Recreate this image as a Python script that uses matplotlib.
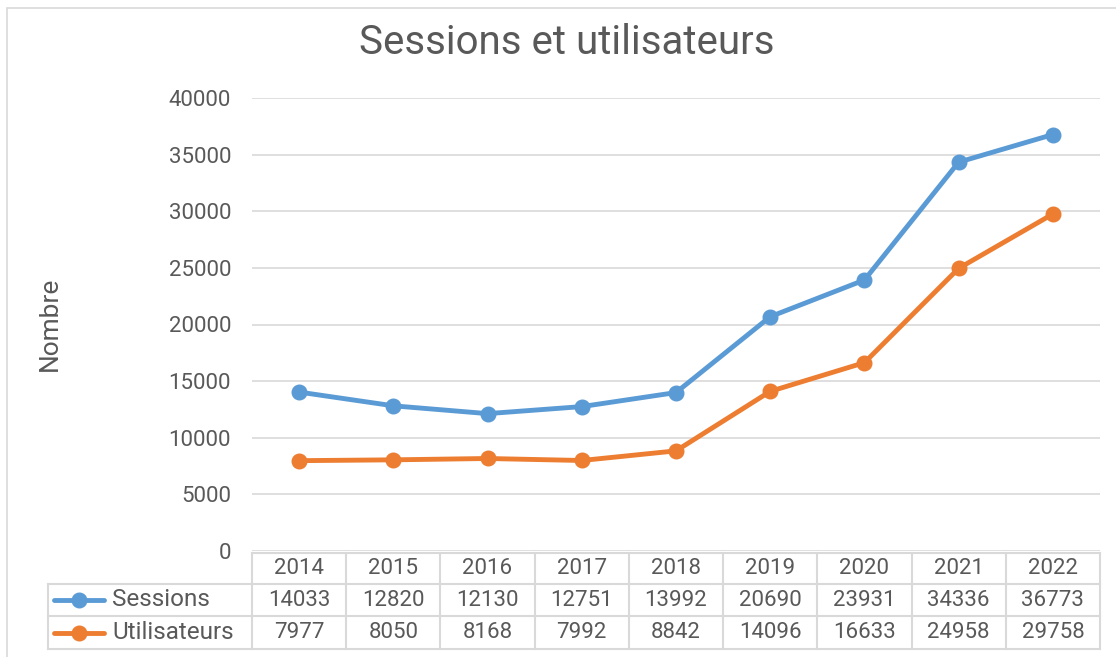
import matplotlib.pyplot as plt
from matplotlib.patches import Rectangle
from matplotlib.transforms import blended_transform_factory

plt.rcParams["font.family"] = ["Roboto", "DejaVu Sans"]

years = ["2014", "2015", "2016", "2017", "2018", "2019", "2020", "2021", "2022"]
sessions = [14033, 12820, 12130, 12751, 13992, 20690, 23931, 34336, 36773]
users = [7977, 8050, 8168, 7992, 8842, 14096, 16633, 24958, 29758]
series_names = ["Sessions", "Utilisateurs"]
colors = ["#5B9BD5", "#ED7D31"]
text_color = "#595959"
grid_color = "#D9D9D9"

W, H = 1116, 657
fig = plt.figure(figsize=(W / 100, H / 100), dpi=100)


def fx(px):
    return px / W


def fy(py):
    return 1 - py / H


# outer chart border (only left and top are visible in the picture)
fig.patches.append(Rectangle((fx(7), -0.05), 1.1, fy(8) + 0.05, transform=fig.transFigure,
                             fill=False, edgecolor=grid_color, linewidth=1.2))

ax = fig.add_axes([fx(252), fy(551), fx(1100) - fx(252), fy(98) - fy(551)])
x = list(range(len(years)))
for vals, c in zip([sessions, users], colors):
    ax.plot(x, vals, color=c, linewidth=3.5, marker="o", markersize=10.5,
            solid_capstyle="round", zorder=3)

ax.set_xlim(-0.5, len(years) - 0.5)
ax.set_ylim(0, 40000)
ax.set_yticks(range(0, 40001, 5000))
ax.yaxis.grid(True, color=grid_color, linewidth=1.2)
ax.set_axisbelow(True)
ax.set_xticks([])
ax.tick_params(axis="y", length=0, pad=15, labelsize=16, labelcolor=text_color)
for s in ax.spines.values():
    s.set_visible(False)

fig.text(fx(567), fy(43), "Sessions et utilisateurs", ha="center", va="center",
         fontsize=29, color=text_color)
fig.text(fx(50), fy(324), "Nombre", rotation=90, ha="center", va="center",
         fontsize=19, color=text_color)

# data table below the plot
tr = blended_transform_factory(ax.transData, fig.transFigure)
row_edges = [553, 584, 616, 649]
line_kw = dict(color=grid_color, linewidth=1.5, clip_on=False)

ax.plot([-0.5, len(years) - 0.5], [fy(row_edges[0])] * 2, transform=tr, **line_kw)
for py in row_edges[1:]:
    fig.add_artist(plt.Line2D([fx(48), fx(1100)], [fy(py)] * 2, transform=fig.transFigure,
                              color=grid_color, linewidth=1.5))
for i in range(len(years) + 1):
    ax.plot([i - 0.5, i - 0.5], [fy(row_edges[0]), fy(row_edges[-1])], transform=tr, **line_kw)
fig.add_artist(plt.Line2D([fx(48), fx(48)], [fy(row_edges[1]), fy(row_edges[-1])],
                          transform=fig.transFigure, color=grid_color, linewidth=1.5))

rows = [years, [str(v) for v in sessions], [str(v) for v in users]]
for r, row in enumerate(rows):
    yc = fy((row_edges[r] + row_edges[r + 1]) / 2)
    for i, label in enumerate(row):
        ax.text(i, yc, label, transform=tr, ha="center", va="center",
                fontsize=16, color=text_color)

for r, (name, c) in enumerate(zip(series_names, colors)):
    yc = fy((row_edges[r + 1] + row_edges[r + 2]) / 2)
    fig.add_artist(plt.Line2D([fx(54), fx(104)], [yc, yc], transform=fig.transFigure,
                              color=c, linewidth=3.5, solid_capstyle="round"))
    fig.add_artist(plt.Line2D([fx(79)], [yc], transform=fig.transFigure, color=c,
                              marker="o", markersize=10.5))
    fig.text(fx(112), yc, name, ha="left", va="center", fontsize=17.5,
             color=text_color)

fig.savefig("out.png", dpi=100, facecolor="white")
